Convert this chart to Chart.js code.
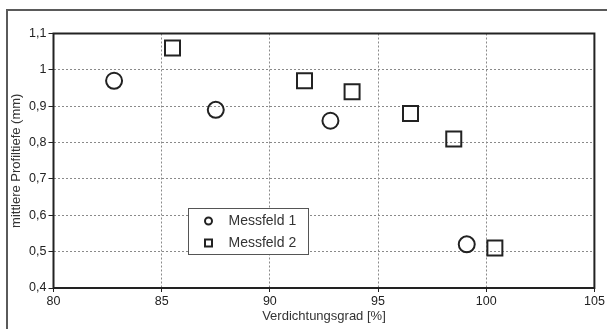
<!DOCTYPE html>
<html>
<head>
<meta charset="utf-8">
<script src="https://cdn.jsdelivr.net/npm/chart.js@4/dist/chart.umd.min.js"></script>
<style>
  html, body { margin: 0; padding: 0; background: #fff; }
  canvas { display: block; }
</style>
</head>
<body>
<canvas id="chart" width="607" height="329"></canvas>
<script>
// Mittlere Profiltiefe über dem Verdichtungsgrad, zwei Messfelder
const seriesNames = ['Messfeld 1', 'Messfeld 2'];
const field1X = [82.8, 87.5, 92.8, 99.1];
const field1Y = [0.97, 0.89, 0.86, 0.52];
const field2X = [85.5, 91.6, 93.8, 96.5, 98.5, 100.4];
const field2Y = [1.06, 0.97, 0.94, 0.88, 0.81, 0.51];
const xTicks = [80, 85, 90, 95, 100, 105];
const yTicks = [0.4, 0.5, 0.6, 0.7, 0.8, 0.9, 1, 1.1];
const xTitle = 'Verdichtungsgrad [%]';
const yTitle = 'mittlere Profiltiefe (mm)';

const FONT = '"Liberation Sans", Arial, sans-serif';
const INK = '#222';

const toPoints = (xs, ys) => xs.map((x, i) => ({ x: x, y: ys[i] }));
const deComma = v => String(v).replace('.', ',');

// outer frame around the figure and the solid frame around the plot area
const framePlugin = {
  id: 'frames',
  beforeDraw(chart) {
    const ctx = chart.ctx;
    ctx.save();
    ctx.fillStyle = '#fff';
    ctx.fillRect(0, 0, chart.width, chart.height);
    ctx.strokeStyle = '#5a5a5a';
    ctx.lineWidth = 2;
    ctx.strokeRect(7, 10, chart.width + 20, chart.height + 20);
    ctx.restore();
  },
  afterDraw(chart) {
    const { ctx, chartArea: a } = chart;
    ctx.save();
    ctx.strokeStyle = INK;
    ctx.lineWidth = 2;
    ctx.strokeRect(a.left, a.top, a.right - a.left, a.bottom - a.top);
    ctx.restore();
  }
};

// boxed legend placed inside the plot area
const boxLegendPlugin = {
  id: 'boxLegend',
  afterDraw(chart) {
    const ctx = chart.ctx;
    const xs = chart.scales.x, ys = chart.scales.y;
    const left = Math.round(xs.getPixelForValue(86.2)) + 0.5;
    const top = Math.round(ys.getPixelForValue(0.621)) + 0.5;
    const w = 120, h = 46;
    ctx.save();
    ctx.fillStyle = '#fff';
    ctx.fillRect(left, top, w, h);
    ctx.strokeStyle = '#555';
    ctx.lineWidth = 1;
    ctx.strokeRect(left, top, w, h);
    ctx.font = '14px ' + FONT;
    ctx.textBaseline = 'middle';
    ctx.textAlign = 'left';
    chart.data.datasets.forEach((ds, i) => {
      const cy = top + 12.5 + i * 22;
      const cx = left + 20;
      ctx.strokeStyle = INK;
      ctx.lineWidth = 2;
      ctx.beginPath();
      if (ds.pointStyle === 'rect') {
        ctx.rect(cx - 3.5, cy - 3.5, 7, 7);
      } else {
        ctx.arc(cx, cy, 3.5, 0, Math.PI * 2);
      }
      ctx.stroke();
      ctx.fillStyle = '#333';
      ctx.fillText(ds.label, left + 40, cy);
    });
    ctx.restore();
  }
};

new Chart(document.getElementById('chart'), {
  type: 'scatter',
  data: {
    datasets: [
      {
        label: seriesNames[0],
        data: toPoints(field1X, field1Y),
        pointStyle: 'circle',
        pointRadius: 8,
        pointHoverRadius: 8,
        pointBorderWidth: 2,
        borderColor: INK,
        backgroundColor: 'rgba(0,0,0,0)'
      },
      {
        label: seriesNames[1],
        data: toPoints(field2X, field2Y),
        pointStyle: 'rect',
        pointRadius: 10.6,
        pointHoverRadius: 10.6,
        pointBorderWidth: 2,
        borderColor: INK,
        backgroundColor: 'rgba(0,0,0,0)'
      }
    ]
  },
  options: {
    responsive: false,
    devicePixelRatio: 1,
    animation: false,
    events: [],
    layout: { padding: { left: 0, top: 33.5, right: 7.7, bottom: 0 } },
    plugins: {
      legend: { display: false },
      tooltip: { enabled: false }
    },
    scales: {
      x: {
        type: 'linear',
        min: 80,
        max: 105,
        afterBuildTicks: s => { s.ticks = xTicks.map(v => ({ value: v })); },
        afterFit: s => { s.height = 41; s.paddingLeft = 0; s.paddingRight = 0; },
        grid: {
          color: '#8a8a8a',
          lineWidth: 1,
          tickLength: 4,
          tickColor: INK,
          tickWidth: 1,
          tickBorderDash: []
        },
        border: { display: false, dash: [2, 2] },
        ticks: {
          padding: 2,
          color: INK,
          font: { family: FONT, size: 12.5 },
          maxRotation: 0,
          callback: v => deComma(v)
        },
        title: {
          display: true,
          text: xTitle,
          color: '#333',
          font: { family: FONT, size: 13 },
          padding: { top: 0, bottom: 5 }
        }
      },
      y: {
        type: 'linear',
        min: 0.4,
        max: 1.1,
        afterBuildTicks: s => { s.ticks = yTicks.map(v => ({ value: v })); },
        afterFit: s => { s.width = 53.5; s.paddingTop = 0; s.paddingBottom = 0; },
        grid: {
          color: '#8a8a8a',
          lineWidth: 1,
          tickLength: 5,
          tickColor: INK,
          tickWidth: 1,
          tickBorderDash: []
        },
        border: { display: false, dash: [2, 2] },
        ticks: {
          padding: 2,
          color: INK,
          font: { family: FONT, size: 12.5 },
          callback: v => deComma(v)
        },
        title: {
          display: true,
          text: yTitle,
          color: '#333',
          font: { family: FONT, size: 13 },
          padding: { top: 9, bottom: 0 }
        }
      }
    }
  },
  plugins: [framePlugin, boxLegendPlugin]
});
</script>
</body>
</html>
